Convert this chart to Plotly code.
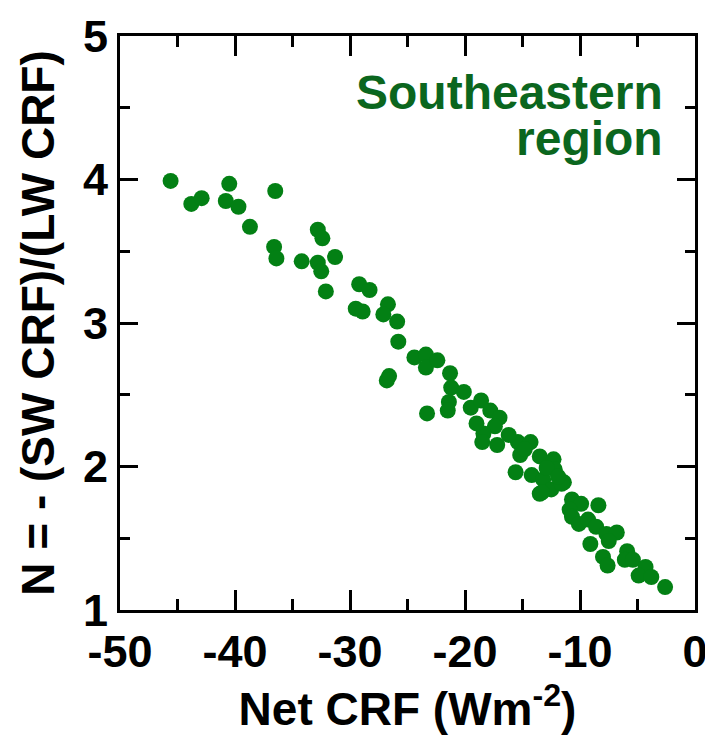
import plotly.graph_objects as go

net_crf = [-45.6, -43.8, -42.9, -40.5, -40.8, -39.7, -38.7, -36.5, -36.6, -36.4, -34.2,
           -32.8, -32.4, -32.8, -32.5, -31.3, -32.1, -29.2, -28.3, -29.5, -28.9, -26.7,
           -27.1, -25.9, -25.8, -24.4, -23.4, -23.4, -22.4, -21.3, -21.2, -21.4, -21.5,
           -26.6, -26.8, -23.3, -20.1, -19.5, -18.6, -17.8, -17.0, -17.4, -18.4, -18.5,
           -17.2, -15.4, -14.3, -15.2, -15.6, -14.2, -13.5, -12.3, -12.2, -13.2, -13.5,
           -12.5, -11.4, -10.7, -11.6, -13.3, -8.4, -9.9, -10.9, -10.7, -10.1, -9.3,
           -8.6, -7.7, -6.8, -9.1, -7.5, -8.0, -7.6, -5.9, -6.1, -5.4, -4.3, -4.9,
           -3.8, -2.6, -14.8, -16.2, -12.9, -11.9, -19.0]
ratio_n = [3.99, 3.83, 3.87, 3.97, 3.85, 3.81, 3.67, 3.92, 3.53, 3.45, 3.43,
           3.65, 3.59, 3.42, 3.36, 3.46, 3.22, 3.27, 3.23, 3.10, 3.08, 3.13,
           3.06, 3.01, 2.87, 2.76, 2.78, 2.69, 2.74, 2.65, 2.55, 2.45, 2.39,
           2.63, 2.60, 2.37, 2.52, 2.41, 2.46, 2.39, 2.34, 2.28, 2.23, 2.17,
           2.15, 2.17, 2.17, 2.08, 1.96, 1.94, 2.07, 2.05, 1.98, 1.91, 1.81,
           1.84, 1.89, 1.77, 1.88, 1.82, 1.73, 1.74, 1.70, 1.65, 1.60, 1.63,
           1.58, 1.53, 1.54, 1.46, 1.48, 1.37, 1.31, 1.41, 1.35, 1.35, 1.30, 1.24,
           1.23, 1.16, 2.12, 2.22, 1.99, 1.93, 2.30]

x_ticks = [-50, -40, -30, -20, -10, 0]
y_ticks = [1, 2, 3, 4, 5]
region_lines = ["Southeastern", "region"]

FONT = "Liberation Sans, Arial, sans-serif"

fig = go.Figure()
fig.add_trace(go.Scatter(
    x=net_crf, y=ratio_n, mode="markers",
    marker=dict(size=16, color="#038014", line=dict(width=0)),
    showlegend=False,
))

tick_font = dict(family=FONT, size=45, color="black", weight="bold")

# page body has an 8px default margin, so the figure is sized/positioned to compensate
fig.update_layout(
    width=705, height=734,
    margin=dict(l=112, r=18, t=28, b=132, autoexpand=False),
    plot_bgcolor="white", paper_bgcolor="white",
    font=dict(family=FONT, color="black"),
    xaxis=dict(
        range=[-50, 0], tickvals=x_ticks, ticktext=[str(v) for v in x_ticks],
        showgrid=False, zeroline=False, automargin=False,
        showline=True, linewidth=3, linecolor="black", mirror="ticks",
        ticks="inside", ticklen=20, tickwidth=3, tickcolor="black",
        minor=dict(dtick=5, ticks="inside", ticklen=11, tickwidth=3, tickcolor="black", showgrid=False),
        tickfont=tick_font,
        title=dict(text="<b>Net CRF (Wm<sup>-2</sup>)</b>",
                   font=dict(size=46, family=FONT, color="black"), standoff=12),
    ),
    yaxis=dict(
        range=[1, 5], tickvals=y_ticks, ticktext=[str(v) for v in y_ticks],
        showgrid=False, zeroline=False, automargin=False,
        showline=True, linewidth=3, linecolor="black", mirror="ticks",
        ticks="inside", ticklen=18, tickwidth=3, tickcolor="black",
        minor=dict(dtick=0.5, ticks="inside", ticklen=10, tickwidth=3, tickcolor="black", showgrid=False),
        tickfont=tick_font,
        title=dict(text="<b>N = - (SW CRF)/(LW CRF)</b>",
                   font=dict(size=46, family=FONT, color="black"), standoff=14),
    ),
    annotations=[
        dict(x=0.947, y=0.902, xref="paper", yref="paper", xanchor="right", yanchor="middle",
             text="<b>" + region_lines[0] + "</b>", showarrow=False,
             font=dict(family=FONT, size=48, color="#0b661e")),
        dict(x=0.947, y=0.821, xref="paper", yref="paper", xanchor="right", yanchor="middle",
             text="<b>" + region_lines[1] + "</b>", showarrow=False,
             font=dict(family=FONT, size=48, color="#0b661e")),
    ],
)

fig.write_html("out.html")
